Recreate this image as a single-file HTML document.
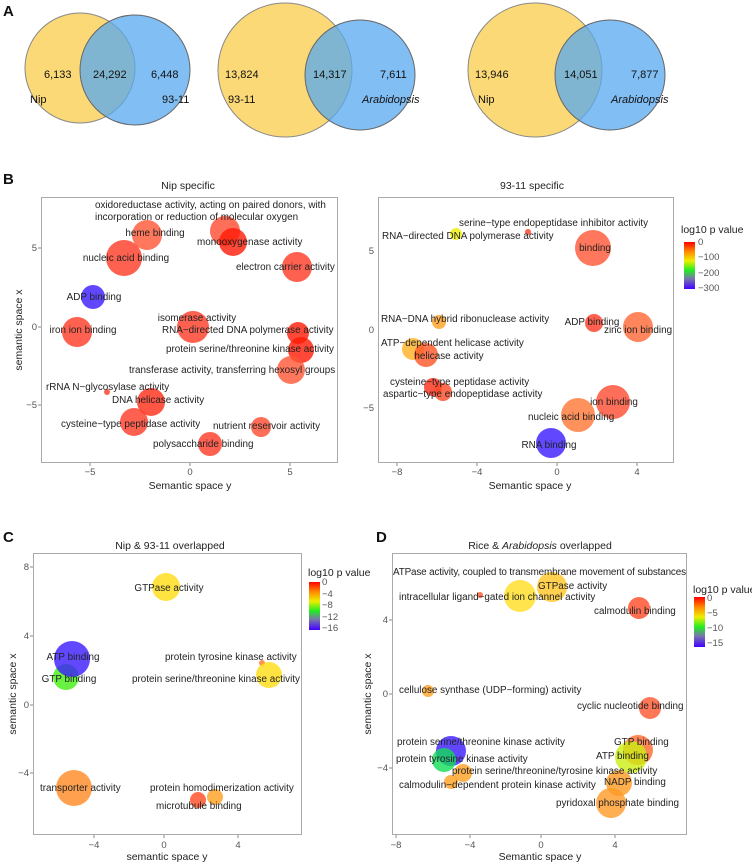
<!DOCTYPE html>
<html><head><meta charset="utf-8"><style>
html,body{margin:0;padding:0;background:#fff}
svg{display:block;font-family:"Liberation Sans",Arial,sans-serif}
.t{font-size:9.9px;fill:#222}
.k{font-size:9.5px;fill:#555}
.ax{font-size:10.5px;fill:#222}
.ti{font-size:10.5px;fill:#222}
.L{font-size:15px;font-weight:bold;fill:#111}
.v{font-size:11px;fill:#111}
</style></head><body>
<svg width="752" height="862" viewBox="0 0 752 862" xmlns="http://www.w3.org/2000/svg">
<defs>
<linearGradient id="cb" x1="0" y1="0" x2="0" y2="1">
<stop offset="0" stop-color="#ff0000"/><stop offset="0.2" stop-color="#ff8800"/><stop offset="0.4" stop-color="#eeee00"/><stop offset="0.6" stop-color="#22ee22"/><stop offset="0.78" stop-color="#7777aa"/><stop offset="1" stop-color="#4400ff"/>
</linearGradient>
</defs>
<!-- Panel A -->
<text class="L" x="3" y="16">A</text>
<circle cx="80" cy="68" r="55" fill="#fcd977" stroke="#888" stroke-width="1"/>
<circle cx="135" cy="70" r="55" fill="#57a8ef" fill-opacity="0.75" stroke="#666" stroke-width="1"/>
<text class="v" x="44" y="78">6,133</text><text class="v" x="93" y="78">24,292</text><text class="v" x="151" y="78">6,448</text>
<text class="v" x="30" y="103">Nip</text><text class="v" x="162" y="103">93-11</text>
<circle cx="285" cy="70" r="67" fill="#fcd977" stroke="#888"/>
<circle cx="360" cy="75" r="55" fill="#57a8ef" fill-opacity="0.75" stroke="#666"/>
<text class="v" x="225" y="78">13,824</text><text class="v" x="313" y="78">14,317</text><text class="v" x="380" y="78">7,611</text>
<text class="v" x="228" y="103">93-11</text><text class="v" x="362" y="103" font-style="italic">Arabidopsis</text>
<circle cx="535" cy="70" r="67" fill="#fcd977" stroke="#888"/>
<circle cx="610" cy="75" r="55" fill="#57a8ef" fill-opacity="0.75" stroke="#666"/>
<text class="v" x="475" y="78">13,946</text><text class="v" x="564" y="78">14,051</text><text class="v" x="631" y="78">7,877</text>
<text class="v" x="478" y="103">Nip</text><text class="v" x="611" y="103" font-style="italic">Arabidopsis</text>

<!-- Panel B left -->
<text class="L" x="3" y="184">B</text>
<text class="ti" x="188" y="189" text-anchor="middle">Nip specific</text>
<rect x="41.5" y="197.5" width="296" height="265" fill="#fff" stroke="#aaa"/>
<g class="k" text-anchor="end"><text x="37" y="251">5</text><text x="37" y="330">0</text><text x="37" y="408">−5</text></g>
<g stroke="#888"><line x1="38" y1="248" x2="41" y2="248"/><line x1="38" y1="327" x2="41" y2="327"/><line x1="38" y1="405" x2="41" y2="405"/><line x1="90" y1="463" x2="90" y2="466"/><line x1="190" y1="463" x2="190" y2="466"/><line x1="290" y1="463" x2="290" y2="466"/></g>
<g class="k" text-anchor="middle"><text x="90" y="475">−5</text><text x="190" y="475">0</text><text x="290" y="475">5</text></g>
<text class="ax" x="190" y="489" text-anchor="middle">Semantic space y</text>
<text class="ax" transform="translate(22,330) rotate(-90)" text-anchor="middle">semantic space x</text>
<g fill-opacity="0.8">
<circle cx="225" cy="231" r="15" fill="#ff4a30"/><circle cx="233" cy="242" r="14" fill="#ff1a05"/>
<circle cx="147" cy="235" r="15" fill="#ff5533"/><circle cx="124" cy="258" r="18" fill="#ff3a25"/>
<circle cx="297" cy="267" r="15" fill="#ff3a25"/><circle cx="93" cy="297" r="12" fill="#3a1aff"/>
<circle cx="193" cy="327" r="16" fill="#ff3a25"/><circle cx="298" cy="333" r="11" fill="#ff1a05"/>
<circle cx="301" cy="350" r="13" fill="#ff1a05"/><circle cx="291" cy="370" r="14" fill="#ff5533"/>
<circle cx="77" cy="332" r="15" fill="#ff3a25"/><circle cx="107" cy="392" r="3" fill="#ff3a25"/>
<circle cx="151" cy="402" r="14" fill="#ff2a15"/><circle cx="134" cy="422" r="14" fill="#ff3a25"/>
<circle cx="261" cy="427" r="10" fill="#ff4a30"/><circle cx="210" cy="444" r="12" fill="#ff3a25"/>
</g>
<g class="t">
<text x="95" y="208">oxidoreductase activity, acting on paired donors, with</text>
<text x="95" y="220">incorporation or reduction of molecular oxygen</text>
<text x="197" y="245">monooxygenase activity</text>
<text x="155" y="236" text-anchor="middle">heme binding</text>
<text x="126" y="261" text-anchor="middle">nucleic acid binding</text>
<text x="236" y="270">electron carrier activity</text>
<text x="94" y="300" text-anchor="middle">ADP binding</text>
<text x="197" y="321" text-anchor="middle">isomerase activity</text>
<text x="162" y="333">RNA−directed DNA polymerase activity</text>
<text x="166" y="352">protein serine/threonine kinase activity</text>
<text x="129" y="373">transferase activity, transferring hexosyl groups</text>
<text x="83" y="333" text-anchor="middle">iron ion binding</text>
<text x="46" y="390">rRNA N−glycosylase activity</text>
<text x="112" y="403">DNA helicase activity</text>
<text x="61" y="427">cysteine−type peptidase activity</text>
<text x="213" y="429">nutrient reservoir activity</text>
<text x="153" y="447">polysaccharide binding</text>
</g>

<!-- Panel B right -->
<text class="ti" x="532" y="189" text-anchor="middle">93-11 specific</text>
<rect x="378.5" y="197.5" width="295" height="265" fill="#fff" stroke="#aaa"/>
<g class="k" text-anchor="end"><text x="374" y="254">5</text><text x="374" y="333">0</text><text x="374" y="411">−5</text></g>
<g stroke="#888"><line x1="397" y1="463" x2="397" y2="466"/><line x1="477" y1="463" x2="477" y2="466"/><line x1="557" y1="463" x2="557" y2="466"/><line x1="637" y1="463" x2="637" y2="466"/></g>
<g class="k" text-anchor="middle"><text x="397" y="475">−8</text><text x="477" y="475">−4</text><text x="557" y="475">0</text><text x="637" y="475">4</text></g>
<text class="ax" x="530" y="489" text-anchor="middle">Semantic space y</text>
<g fill-opacity="0.8">
<circle cx="456" cy="234" r="6" fill="#eeee00"/><circle cx="528" cy="232" r="3" fill="#ff3a25"/>
<circle cx="593" cy="248" r="18" fill="#ff5533"/><circle cx="439" cy="322" r="7" fill="#ffa020"/>
<circle cx="594" cy="323" r="9" fill="#ff3a25"/><circle cx="638" cy="327" r="15" fill="#ff6633"/>
<circle cx="413" cy="349" r="11" fill="#ffb020"/><circle cx="426" cy="355" r="12" fill="#ff5525"/>
<circle cx="433" cy="387" r="9" fill="#ff2a15"/><circle cx="443" cy="392" r="9" fill="#ff4a25"/>
<circle cx="613" cy="402" r="17" fill="#ff4a30"/><circle cx="578" cy="415" r="17" fill="#ff7733"/>
<circle cx="551" cy="443" r="15" fill="#3a1aff"/>
</g>
<g class="t">
<text x="382" y="239">RNA−directed DNA polymerase activity</text>
<text x="459" y="226">serine−type endopeptidase inhibitor activity</text>
<text x="595" y="251" text-anchor="middle">binding</text>
<text x="381" y="322">RNA−DNA hybrid ribonuclease activity</text>
<text x="592" y="325" text-anchor="middle">ADP binding</text>
<text x="604" y="333">zinc ion binding</text>
<text x="381" y="346">ATP−dependent helicase activity</text>
<text x="449" y="359" text-anchor="middle">helicase activity</text>
<text x="390" y="385">cysteine−type peptidase activity</text>
<text x="383" y="397">aspartic−type endopeptidase activity</text>
<text x="614" y="405" text-anchor="middle">ion binding</text>
<text x="528" y="420">nucleic acid binding</text>
<text x="549" y="448" text-anchor="middle">RNA binding</text>
</g>
<text class="ti" x="681" y="233">log10 p value</text>
<rect x="684" y="242" width="11" height="47" fill="url(#cb)"/>
<g class="k" fill="#222"><text x="698" y="245">0</text><text x="698" y="260">−100</text><text x="698" y="276">−200</text><text x="698" y="291">−300</text></g>

<!-- Panel C -->
<text class="L" x="3" y="542">C</text>
<text class="ti" x="170" y="549" text-anchor="middle">Nip &amp; 93-11 overlapped</text>
<rect x="33.5" y="553.5" width="268" height="281" fill="#fff" stroke="#aaa"/>
<g class="k" text-anchor="end"><text x="29" y="570">8</text><text x="29" y="639">4</text><text x="29" y="708">0</text><text x="29" y="776">−4</text></g>
<g stroke="#888"><line x1="30" y1="567" x2="33" y2="567"/><line x1="30" y1="636" x2="33" y2="636"/><line x1="30" y1="705" x2="33" y2="705"/><line x1="30" y1="773" x2="33" y2="773"/><line x1="94" y1="835" x2="94" y2="838"/><line x1="164" y1="835" x2="164" y2="838"/><line x1="238" y1="835" x2="238" y2="838"/></g>
<g class="k" text-anchor="middle"><text x="94" y="848">−4</text><text x="164" y="848">0</text><text x="238" y="848">4</text></g>
<text class="ax" x="167" y="860" text-anchor="middle">semantic space y</text>
<text class="ax" transform="translate(16,694) rotate(-90)" text-anchor="middle">semantic space x</text>
<g fill-opacity="0.8">
<circle cx="166" cy="587" r="14" fill="#ffdd11"/>
<circle cx="66" cy="677" r="13" fill="#44ee11"/>
<circle cx="72" cy="659" r="18" fill="#3a1aff"/>
<circle cx="262" cy="663" r="3" fill="#ff7722"/><circle cx="269" cy="675" r="13" fill="#ffdd11"/>
<circle cx="74" cy="788" r="18" fill="#ff8822"/>
<circle cx="215" cy="797" r="8" fill="#ffa020"/><circle cx="198" cy="800" r="8" fill="#ff4a20"/>
</g>
<g class="t">
<text x="169" y="591" text-anchor="middle">GTPase activity</text>
<text x="73" y="660" text-anchor="middle">ATP binding</text>
<text x="69" y="682" text-anchor="middle">GTP binding</text>
<text x="165" y="660">protein tyrosine kinase activity</text>
<text x="132" y="682">protein serine/threonine kinase activity</text>
<text x="40" y="791">transporter activity</text>
<text x="150" y="791">protein homodimerization activity</text>
<text x="156" y="809">microtubule binding</text>
</g>
<text class="ti" x="308" y="576">log10 p value</text>
<rect x="309" y="582" width="11" height="48" fill="url(#cb)"/>
<g class="k" fill="#222"><text x="322" y="585">0</text><text x="322" y="597">−4</text><text x="322" y="608">−8</text><text x="322" y="620">−12</text><text x="322" y="631">−16</text></g>

<!-- Panel D -->
<text class="L" x="376" y="542">D</text>
<text class="ti" x="540" y="549" text-anchor="middle">Rice &amp; <tspan font-style="italic">Arabidopsis</tspan> overlapped</text>
<rect x="392.5" y="553.5" width="294" height="281" fill="#fff" stroke="#aaa"/>
<g class="k" text-anchor="end"><text x="388" y="623">4</text><text x="388" y="697">0</text><text x="388" y="771">−4</text></g>
<g stroke="#888"><line x1="389" y1="620" x2="392" y2="620"/><line x1="389" y1="694" x2="392" y2="694"/><line x1="389" y1="768" x2="392" y2="768"/><line x1="396" y1="835" x2="396" y2="838"/><line x1="470" y1="835" x2="470" y2="838"/><line x1="541" y1="835" x2="541" y2="838"/><line x1="615" y1="835" x2="615" y2="838"/></g>
<g class="k" text-anchor="middle"><text x="396" y="848">−8</text><text x="470" y="848">−4</text><text x="541" y="848">0</text><text x="615" y="848">4</text></g>
<text class="ax" x="540" y="860" text-anchor="middle">Semantic space y</text>
<text class="ax" transform="translate(371,694) rotate(-90)" text-anchor="middle">semantic space x</text>
<g fill-opacity="0.8">
<circle cx="520" cy="596" r="16" fill="#ffdd22"/><circle cx="552" cy="587" r="15" fill="#ffc522"/>
<circle cx="480" cy="595" r="3" fill="#ff5522"/><circle cx="639" cy="608" r="11" fill="#ff4a25"/>
<circle cx="428" cy="691" r="6" fill="#ffa020"/><circle cx="650" cy="708" r="11" fill="#ff5530"/>
<circle cx="451" cy="751" r="15" fill="#3a1aff"/><circle cx="444" cy="760" r="12" fill="#11dd55"/>
<circle cx="463" cy="773" r="9" fill="#ffa020"/><circle cx="451" cy="782" r="7" fill="#ffa020"/>
<circle cx="638" cy="750" r="15" fill="#ff6a30"/><circle cx="631" cy="757" r="16" fill="#ccee11"/>
<circle cx="619" cy="783" r="13" fill="#ff9a20"/><circle cx="611" cy="803" r="15" fill="#ff9a25"/>
</g>
<g class="t">
<text x="393" y="575" textLength="293">ATPase activity, coupled to transmembrane movement of substances</text>
<text x="538" y="589">GTPase activity</text>
<text x="399" y="600">intracellular ligand−gated ion channel activity</text>
<text x="594" y="614">calmodulin binding</text>
<text x="399" y="693">cellulose synthase (UDP−forming) activity</text>
<text x="577" y="709">cyclic nucleotide binding</text>
<text x="397" y="745">protein serine/threonine kinase activity</text>
<text x="396" y="762">protein tyrosine kinase activity</text>
<text x="452" y="774">protein serine/threonine/tyrosine kinase activity</text>
<text x="399" y="788">calmodulin−dependent protein kinase activity</text>
<text x="614" y="745">GTP binding</text>
<text x="596" y="759">ATP binding</text>
<text x="604" y="785">NADP binding</text>
<text x="556" y="806">pyridoxal phosphate binding</text>
</g>
<text class="ti" x="693" y="593">log10 p value</text>
<rect x="694" y="597" width="11" height="50" fill="url(#cb)"/>
<g class="k" fill="#222"><text x="707" y="601">0</text><text x="707" y="616">−5</text><text x="707" y="631">−10</text><text x="707" y="646">−15</text></g>
</svg>
</body></html>
